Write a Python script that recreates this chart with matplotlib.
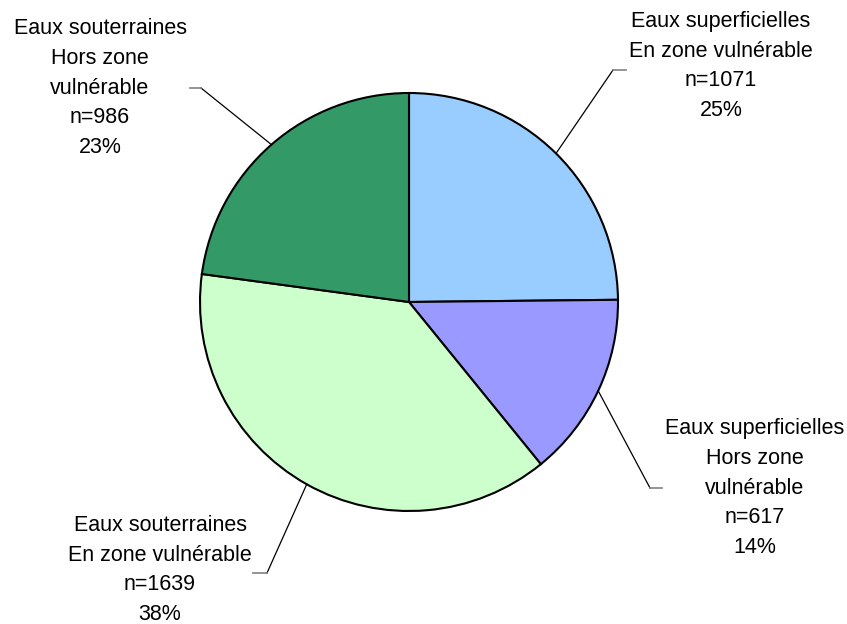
import numpy as np
import matplotlib
matplotlib.use("Agg")
import matplotlib.pyplot as plt

# donnees
labels = ["Eaux superficielles\nEn zone vulnérable",
          "Eaux superficielles\nHors zone\nvulnérable",
          "Eaux souterraines\nEn zone vulnérable",
          "Eaux souterraines\nHors zone\nvulnérable"]
counts = [1071, 617, 1639, 986]
colors = ["#99CCFF", "#9999FF", "#CCFFCC", "#339966"]

W, H = 847, 624
cx, cy, R = 409, H - 302, 209

# label centres and elbow of leader (pixel layout, y from top)
lab_pos = [(721, 66), (755, 488), (160, 570), (100, 88)]
elbow = [(613, 70, 626), (650, 488, 662), (267, 573, 253), (201, 88, 190)]

fig = plt.figure(figsize=(W / 100, H / 100), dpi=100)
ax = fig.add_axes([0, 0, 1, 1])

wedges, _ = ax.pie(counts, colors=colors, startangle=90, counterclock=False,
                   center=(cx, cy), radius=R, frame=True,
                   wedgeprops=dict(edgecolor="black", linewidth=1.5))
ax.set_xlim(0, W)
ax.set_ylim(0, H)
ax.set_aspect("equal")
ax.axis("off")

total = sum(counts)
for i, w in enumerate(wedges):
    pct = counts[i] / total * 100
    txt = "%s\nn=%d\n%d%%" % (labels[i], counts[i], round(pct))
    lx, ly = lab_pos[i]
    ax.text(lx, H - ly, txt, ha="center", va="center", fontsize=15.5,
            family="Liberation Sans", linespacing=1.56)
    ang = np.deg2rad((w.theta1 + w.theta2) / 2)
    px = cx + R * np.cos(ang)
    py = cy + R * np.sin(ang)
    ex, ey, gx = elbow[i]
    ax.plot([px, ex], [py, H - ey], color="black", lw=0.9)
    ax.plot([ex, gx], [H - ey, H - ey], color="#808080", lw=1.2)

fig.savefig("out.png", dpi=100)
